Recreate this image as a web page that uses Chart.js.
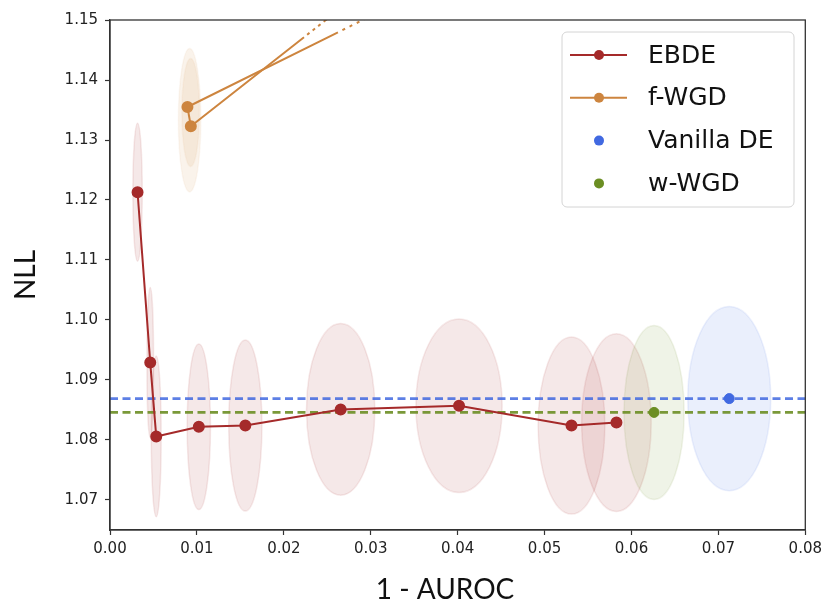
<!DOCTYPE html>
<html>
<head>
<meta charset="utf-8">
<script src="https://cdn.jsdelivr.net/npm/chart.js@4.4.0/dist/chart.umd.min.js"></script>
<style>
  html, body { margin: 0; padding: 0; background: #fff; }
  canvas { display: block; }
</style>
</head>
<body>
<canvas id="grafico" width="827" height="610"></canvas>
<script>
// EBDE runs: mean (1 - AUROC, NLL) and spread per run
const ebdeX = [0.00317, 0.00463, 0.00532, 0.01022, 0.01557, 0.02654, 0.04016, 0.05310, 0.05827];
const ebdeNLL = [1.1213, 1.0929, 1.0806, 1.0822, 1.0824, 1.0851, 1.0857, 1.0824, 1.0829];
const ebdeSdX = [0.00054, 0.00038, 0.00057, 0.00134, 0.00191, 0.00393, 0.00496, 0.00384, 0.00400];
const ebdeSdNLL = [0.0115, 0.0125, 0.0134, 0.0138, 0.01425, 0.0143, 0.01445, 0.01475, 0.0148];

// f-WGD runs (first and last lie above the plotted range)
const fwgdX = [0.0424, 0.0093, 0.00891, 0.0569];
const fwgdNLL = [1.17, 1.1323, 1.1355, 1.17];
const fwgdEllX = [0.00916, 0.00928];
const fwgdEllNLL = [1.1333, 1.1346];
const fwgdSdX = [0.00129, 0.00101];
const fwgdSdNLL = [0.01195, 0.0090];

// baselines
const vanillaX = [0.07125];
const vanillaNLL = [1.0869];
const vanillaSdX = [0.00477];
const vanillaSdNLL = [0.01535];
const wwgdX = [0.0626];
const wwgdNLL = [1.0846];
const wwgdSdX = [0.00346];
const wwgdSdNLL = [0.0145];

const xTicks = [0.00, 0.01, 0.02, 0.03, 0.04, 0.05, 0.06, 0.07, 0.08];
const yTicks = [1.07, 1.08, 1.09, 1.10, 1.11, 1.12, 1.13, 1.14, 1.15];

const corEBDE = '#a52a2a';
const corFWGD = '#cd853f';
const corVanilla = '#4169e1';
const corWWGD = '#6b8e23';

const pontos = (xs, ys) => xs.map((x, i) => ({ x, y: ys[i] }));
const horizontal = v => [{ x: xTicks[0], y: v }, { x: xTicks[xTicks.length - 1], y: v }];

// grupos de elipses (desvio em x e em NLL)
const elipses = [
  { xs: ebdeX, ys: ebdeNLL, rx: ebdeSdX, ry: ebdeSdNLL, fill: 'rgba(165,42,42,0.11)', stroke: 'rgba(165,42,42,0.10)' },
  { xs: fwgdEllX, ys: fwgdEllNLL, rx: fwgdSdX, ry: fwgdSdNLL, fill: 'rgba(205,133,63,0.10)', stroke: 'rgba(205,133,63,0.06)' },
  { xs: wwgdX, ys: wwgdNLL, rx: wwgdSdX, ry: wwgdSdNLL, fill: 'rgba(107,142,35,0.11)', stroke: 'rgba(107,142,35,0.10)' },
  { xs: vanillaX, ys: vanillaNLL, rx: vanillaSdX, ry: vanillaSdNLL, fill: 'rgba(65,105,225,0.11)', stroke: 'rgba(65,105,225,0.10)' }
];

const pluginElipses = {
  id: 'elipses',
  beforeDatasetsDraw(chart) {
    const { ctx, chartArea, scales: { x, y } } = chart;
    ctx.save();
    ctx.beginPath();
    ctx.rect(chartArea.left, chartArea.top, chartArea.right - chartArea.left, chartArea.bottom - chartArea.top);
    ctx.clip();
    elipses.forEach(g => {
      g.xs.forEach((cx, i) => {
        const px = x.getPixelForValue(cx);
        const py = y.getPixelForValue(g.ys[i]);
        const rx = Math.abs(x.getPixelForValue(cx + g.rx[i]) - px);
        const ry = Math.abs(y.getPixelForValue(g.ys[i] + g.ry[i]) - py);
        ctx.beginPath();
        ctx.ellipse(px, py, rx, ry, 0, 0, Math.PI * 2);
        ctx.fillStyle = g.fill;
        ctx.fill();
        ctx.strokeStyle = g.stroke;
        ctx.lineWidth = 1.5;
        ctx.stroke();
      });
    });
    ctx.restore();
  }
};

// moldura completa, título do eixo x e legenda
const pluginMoldura = {
  id: 'moldura',
  afterDraw(chart) {
    const { ctx, chartArea: a } = chart;
    ctx.save();
    ctx.strokeStyle = '#333';
    ctx.lineWidth = 1.3;
    ctx.strokeRect(a.left, a.top, a.right - a.left, a.bottom - a.top);

    ctx.font = '28px Lato';
    ctx.fillStyle = '#111';
    ctx.textAlign = 'center';
    ctx.textBaseline = 'middle';
    ctx.fillText('1 - AUROC', 445, 590);

    // legenda
    const bx = 562, by = 32, bw = 232, bh = 175;
    ctx.beginPath();
    ctx.roundRect(bx, by, bw, bh, 5);
    ctx.fillStyle = 'rgba(255,255,255,0.85)';
    ctx.fill();
    ctx.strokeStyle = '#d4d4d4';
    ctx.lineWidth = 1;
    ctx.stroke();

    const itens = chart.data.datasets.filter(d => d.noLegend !== true);
    ctx.font = '25px "DejaVu Sans"';
    ctx.textAlign = 'left';
    itens.forEach((d, i) => {
      const yy = 55 + i * 42.8;
      if (d.showLine) {
        ctx.beginPath();
        ctx.moveTo(570, yy);
        ctx.lineTo(627, yy);
        ctx.strokeStyle = d.borderColor;
        ctx.lineWidth = 2;
        ctx.stroke();
      }
      ctx.beginPath();
      ctx.arc(599, yy, 5, 0, Math.PI * 2);
      ctx.fillStyle = d.pointBackgroundColor;
      ctx.fill();
      ctx.fillStyle = '#111';
      ctx.fillText(d.label, 648, yy + 1);
    });
    ctx.restore();
  }
};

const fonteTicks = { family: 'DejaVu Sans', size: 15 };

new Chart(document.getElementById('grafico'), {
  type: 'scatter',
  data: {
    datasets: [
      {
        label: 'EBDE',
        data: pontos(ebdeX, ebdeNLL),
        showLine: true,
        borderColor: corEBDE,
        borderWidth: 2,
        pointBackgroundColor: corEBDE,
        pointBorderColor: corEBDE,
        pointRadius: 5,
        order: 1
      },
      {
        label: 'f-WGD',
        data: pontos(fwgdX, fwgdNLL),
        showLine: true,
        borderColor: corFWGD,
        borderWidth: 2,
        pointBackgroundColor: corFWGD,
        pointBorderColor: corFWGD,
        pointRadius: 5,
        segment: {
          // os trechos que saem pelo topo terminam pontilhados
          borderDash: c => {
            if (c.p0DataIndex === 0) return [197, 4, 3, 4, 3, 4, 3, 4, 400];
            if (c.p0DataIndex === 2) return [168, 5, 3, 5, 3, 5, 3, 5, 3, 5, 3, 400];
            return undefined;
          }
        },
        order: 1
      },
      {
        label: 'Vanilla DE',
        data: pontos(vanillaX, vanillaNLL),
        pointBackgroundColor: corVanilla,
        pointBorderColor: corVanilla,
        pointRadius: 5,
        order: 1
      },
      {
        label: 'w-WGD',
        data: pontos(wwgdX, wwgdNLL),
        pointBackgroundColor: corWWGD,
        pointBorderColor: corWWGD,
        pointRadius: 5,
        order: 1
      },
      {
        noLegend: true,
        data: horizontal(vanillaNLL[0]),
        showLine: true,
        borderColor: 'rgba(65,105,225,0.85)',
        borderWidth: 2.6,
        borderDash: [8, 4.5],
        pointRadius: 0,
        order: 2
      },
      {
        noLegend: true,
        data: horizontal(wwgdNLL[0]),
        showLine: true,
        borderColor: 'rgba(107,142,35,0.9)',
        borderWidth: 2.6,
        borderDash: [8, 4.5],
        pointRadius: 0,
        order: 2
      }
    ]
  },
  options: {
    responsive: false,
    devicePixelRatio: 1,
    animation: false,
    layout: { padding: { top: 20, right: 20, left: 0, bottom: 0 } },
    plugins: {
      legend: { display: false },
      tooltip: { enabled: false }
    },
    scales: {
      x: {
        type: 'linear',
        min: 0,
        max: 0.08,
        afterBuildTicks: s => { s.ticks = xTicks.map(v => ({ value: v })); },
        afterFit: s => { s.height = 80; },
        ticks: {
          callback: v => v.toFixed(2),
          font: fonteTicks,
          color: '#222',
          padding: 5,
          maxRotation: 0
        },
        grid: { drawOnChartArea: false, tickLength: 5, color: '#333', tickWidth: 1.2 },
        border: { color: '#333', width: 1.3 }
      },
      y: {
        type: 'linear',
        min: 1.065,
        max: 1.15,
        afterBuildTicks: s => { s.ticks = yTicks.map(v => ({ value: v })); },
        afterFit: s => { s.width = 110; },
        ticks: {
          callback: v => v.toFixed(2),
          font: fonteTicks,
          color: '#222',
          padding: 7
        },
        grid: { drawOnChartArea: false, tickLength: 5, color: '#333', tickWidth: 1.2 },
        border: { color: '#333', width: 1.3 },
        title: {
          display: true,
          text: 'NLL',
          font: { family: 'Lato', size: 28, lineHeight: 1.2 },
          color: '#111',
          padding: { top: 9, bottom: 0 }
        }
      }
    }
  },
  plugins: [pluginElipses, pluginMoldura]
});
</script>
</body>
</html>
